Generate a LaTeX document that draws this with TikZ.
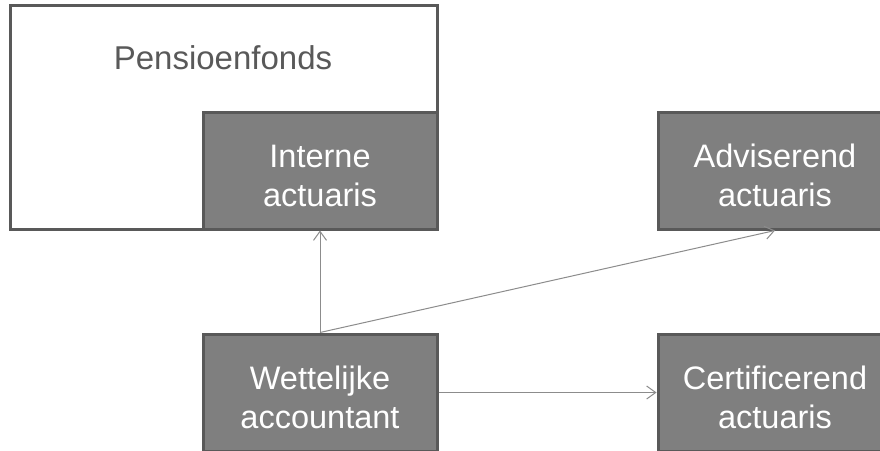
\documentclass[tikz,border=0pt]{standalone}
\usepackage{fontspec}
\setmainfont{Liberation Sans}
\usetikzlibrary{arrows.meta}
\definecolor{edgegray}{HTML}{595959}
\definecolor{boxgray}{HTML}{7F7F7F}
\definecolor{arrowgray}{HTML}{8C8C8C}
\newcommand{\toppad}{\rule{0pt}{33pt}}
\begin{document}
\begin{tikzpicture}[x=1pt,y=-1pt,
  darkbox/.style={draw=edgegray, fill=boxgray, line width=3pt,
    minimum width=234pt, minimum height=117pt, inner sep=0pt,
    text=white, align=center,
    font=\fontsize{32.5pt}{39pt}\selectfont},
  link/.style={draw=arrowgray, line width=1pt,
    -{Straight Barb[length=9pt,width=13pt,line width=1pt]}}]
\useasboundingbox (0,0) rectangle (880,450);
\clip (0,0) rectangle (880,450);
\fill[white] (0,0) rectangle (880,450);
% outer box
\draw[edgegray, line width=3pt, fill=white] (10,5) rectangle (437,229);
\node[anchor=base, text=edgegray, font=\fontsize{33pt}{39pt}\selectfont] (pf) at (223,69) {Pensioenfonds};
% boxes
\node[darkbox] (ia) at (320,170.5) {\toppad Interne\\actuaris};
\node[darkbox] (aa) at (775,170.5) {\toppad Adviserend\\actuaris};
\node[darkbox] (wa) at (320,392.5) {\toppad Wettelijke\\accountant};
\node[darkbox] (ca) at (775,392.5) {\toppad Certificerend\\actuaris};
% connectors
\draw[link] (wa.north) -- (ia.south);
\draw[link] (wa.north) -- (aa.south);
\draw[link] (wa.east) -- (ca.west);
\end{tikzpicture}
\end{document}
